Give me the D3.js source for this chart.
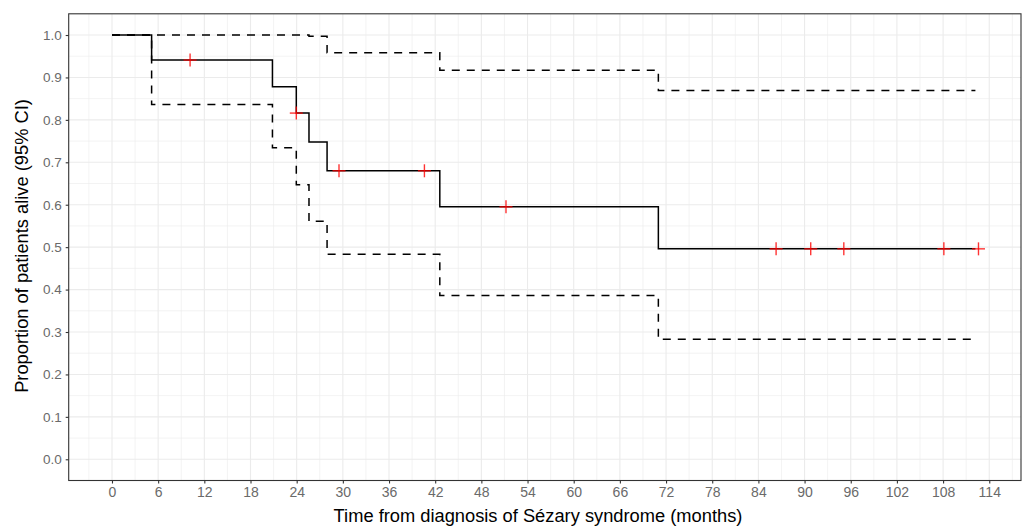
<!DOCTYPE html>
<html>
<head>
<meta charset="utf-8">
<script src="https://d3js.org/d3.v7.min.js"></script>
<style>
  body { margin: 0; background: #fff; }
  text { font-family: "Liberation Sans", Arial, sans-serif; }
</style>
</head>
<body>
<div id="chart"></div>
<script>
// Kaplan-Meier step data
var stepTimes  = [0, 5.15, 20.85, 23.95, 25.6, 27.95, 42.6, 71.0];
var survValues = [1.0, 0.941, 0.878, 0.816, 0.748, 0.680, 0.595, 0.496];
var upperCI    = [1.0, 1.0, 1.0, 1.0, 0.997, 0.958, 0.917, 0.869];
var lowerCI    = [1.0, 0.836, 0.734, 0.647, 0.561, 0.483, 0.386, 0.283];
var lastTime = 112.2;
var censorTimes = [10.15, 23.95, 29.5, 40.6, 51.2, 86.3, 90.8, 95.1, 108.1, 112.6];

var xTicks = d3.range(0, 115, 6);
var yTicks = d3.range(0, 11).map(function(i){ return i / 10; });

var width = 1024, height = 527;
var margin = {top: 13.8, right: 3, bottom: 46.5, left: 68.7};

var svg = d3.select("#chart").append("svg")
  .attr("width", width)
  .attr("height", height);

var x = d3.scaleLinear()
  .domain([-5.625, 118.125])
  .range([margin.left, width - margin.right]);

var y = d3.scaleLinear()
  .domain([-0.05, 1.05])
  .range([height - margin.bottom, margin.top]);

// grid lines (minor first, then major)
var minorX = d3.range(-3, 119, 6);
var minorY = d3.range(0, 10).map(function(i){ return i / 10 + 0.05; });

var grid = svg.append("g");
grid.selectAll(".minx").data(minorX).enter().append("line")
  .attr("x1", function(d){ return x(d); }).attr("x2", function(d){ return x(d); })
  .attr("y1", y.range()[0]).attr("y2", y.range()[1])
  .attr("stroke", "#ebebeb").attr("stroke-width", 0.6);
grid.selectAll(".miny").data(minorY).enter().append("line")
  .attr("y1", function(d){ return y(d); }).attr("y2", function(d){ return y(d); })
  .attr("x1", x.range()[0]).attr("x2", x.range()[1])
  .attr("stroke", "#ebebeb").attr("stroke-width", 0.6);
grid.selectAll(".majx").data(xTicks).enter().append("line")
  .attr("x1", function(d){ return x(d); }).attr("x2", function(d){ return x(d); })
  .attr("y1", y.range()[0]).attr("y2", y.range()[1])
  .attr("stroke", "#ebebeb").attr("stroke-width", 1.1);
grid.selectAll(".majy").data(yTicks).enter().append("line")
  .attr("y1", function(d){ return y(d); }).attr("y2", function(d){ return y(d); })
  .attr("x1", x.range()[0]).attr("x2", x.range()[1])
  .attr("stroke", "#ebebeb").attr("stroke-width", 1.1);

// build step paths
function stepData(vals){
  var pts = [];
  for (var i = 0; i < stepTimes.length; i++){
    pts.push({t: stepTimes[i], v: vals[i]});
  }
  pts.push({t: lastTime, v: vals[vals.length - 1]});
  return pts;
}

var line = d3.line()
  .x(function(d){ return x(d.t); })
  .y(function(d){ return y(d.v); })
  .curve(d3.curveStepAfter);

svg.append("path").datum(stepData(upperCI))
  .attr("d", line).attr("fill", "none")
  .attr("stroke", "black").attr("stroke-width", 1.5)
  .attr("stroke-dasharray", "8,7");

svg.append("path").datum(stepData(lowerCI))
  .attr("d", line).attr("fill", "none")
  .attr("stroke", "black").attr("stroke-width", 1.5)
  .attr("stroke-dasharray", "8,7");

svg.append("path").datum(stepData(survValues))
  .attr("d", line).attr("fill", "none")
  .attr("stroke", "black").attr("stroke-width", 1.5);

// censor marks
function survAt(t){
  var v = survValues[0];
  for (var i = 0; i < stepTimes.length; i++){
    if (stepTimes[i] <= t) v = survValues[i];
  }
  return v;
}

var marks = svg.selectAll(".censor").data(censorTimes).enter().append("g")
  .attr("transform", function(d){ return "translate(" + x(d) + "," + y(survAt(d)) + ")"; });
marks.append("line").attr("x1", -6.5).attr("x2", 6.5).attr("y1", 0).attr("y2", 0)
  .attr("stroke", "red").attr("stroke-opacity", 0.8).attr("stroke-width", 1.4);
marks.append("line").attr("x1", 0).attr("x2", 0).attr("y1", -6.5).attr("y2", 6.5)
  .attr("stroke", "red").attr("stroke-opacity", 0.8).attr("stroke-width", 1.4);

// panel border
svg.append("rect")
  .attr("x", x.range()[0]).attr("y", y.range()[1])
  .attr("width", x.range()[1] - x.range()[0])
  .attr("height", y.range()[0] - y.range()[1])
  .attr("fill", "none").attr("stroke", "#333333").attr("stroke-width", 1.1);

// axes
var xAxis = svg.append("g")
  .attr("transform", "translate(0," + y.range()[0] + ")")
  .call(d3.axisBottom(x).tickValues(xTicks).tickSize(3).tickPadding(4));
var yAxis = svg.append("g")
  .attr("transform", "translate(" + x.range()[0] + ",0)")
  .call(d3.axisLeft(y).tickValues(yTicks).tickFormat(d3.format(".1f")).tickSize(3).tickPadding(4));

[xAxis, yAxis].forEach(function(a){
  a.select(".domain").remove();
  a.selectAll(".tick line").attr("stroke", "#333333").attr("stroke-width", 1.1);
  a.selectAll(".tick text").attr("fill", "#6a6a6a")
    .style("font-family", "Liberation Sans, Arial, sans-serif");
});
xAxis.selectAll(".tick text").style("font-size", "14px");
yAxis.selectAll(".tick text").style("font-size", "13.5px");

// axis titles
svg.append("text")
  .attr("x", 538)
  .attr("y", 522)
  .style("text-anchor", "middle")
  .style("font-size", "18.3px")
  .text("Time from diagnosis of Sézary syndrome (months)");

svg.append("text")
  .attr("transform", "translate(28,246) rotate(-90)")
  .style("text-anchor", "middle")
  .style("font-size", "18.3px")
  .text("Proportion of patients alive (95% CI)");
</script>
</body>
</html>
